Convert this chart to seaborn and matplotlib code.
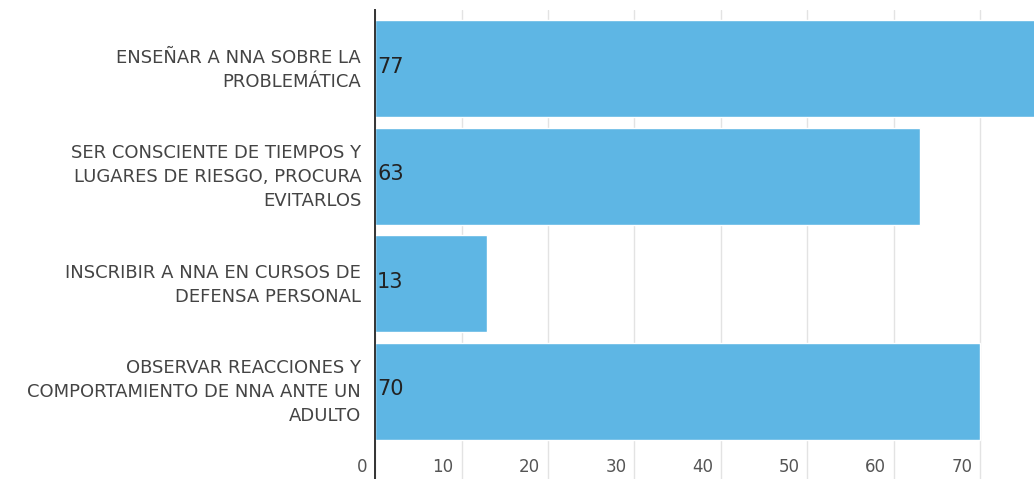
import pandas as pd
import matplotlib.pyplot as plt
import matplotlib.transforms as mtransforms
import seaborn as sns

# data
categorias = [
    "ENSEÑAR A NNA SOBRE LA\nPROBLEMÁTICA",
    "SER CONSCIENTE DE TIEMPOS Y\nLUGARES DE RIESGO, PROCURA\nEVITARLOS",
    "INSCRIBIR A NNA EN CURSOS DE\nDEFENSA PERSONAL",
    "OBSERVAR REACCIONES Y\nCOMPORTAMIENTO DE NNA ANTE UN\nADULTO",
]
valores = [77, 63, 13, 70]
ticks_x = [0, 10, 20, 30, 40, 50, 60, 70]

df = pd.DataFrame({"categoria": categorias, "valor": valores})

sns.set_style("white")
plt.rcParams['font.family'] = ['DejaVu Sans']

fig = plt.figure(figsize=(10.34, 4.79), dpi=100)
ax = fig.add_axes([0.3627, 0.0, 0.6373, 0.979])

sns.barplot(data=df, x="valor", y="categoria", orient="h", color="#5eb6e4",
            saturation=1, width=0.9, ax=ax)

ax.set_xlim(0, 76.2)
ax.set_ylim(3.815, -0.546)
ax.set_xlabel("")
ax.set_ylabel("")

# vertical gridlines
ax.set_xticks(ticks_x)
ax.grid(axis="x", color="#e3e3e3", linewidth=1)
ax.set_axisbelow(True)
ax.tick_params(axis="x", length=0, labelbottom=False)
ax.tick_params(axis="y", length=0, pad=10, labelsize=13, labelcolor="#444444")
shift_up = mtransforms.ScaledTranslation(0, 4 / 100, fig.dpi_scale_trans)
for lbl in ax.get_yticklabels():
    lbl.set_linespacing(1.42)
    lbl.set_ha("right")
    lbl.set_multialignment("right")
    lbl.set_transform(lbl.get_transform() + shift_up)

for s in ["top", "right", "bottom"]:
    ax.spines[s].set_visible(False)
ax.spines["left"].set_color("#333333")
ax.spines["left"].set_linewidth(1.4)
ax.spines["left"].set_zorder(5)

# x tick labels drawn inside the plot area, to the left of each gridline
trans = mtransforms.blended_transform_factory(ax.transData, ax.transAxes)
trans = mtransforms.offset_copy(trans, fig=fig, x=-8, y=0, units="dots")
for t in ticks_x:
    ax.text(t, 0.025, str(t), transform=trans, ha="right", va="center",
            fontsize=12, color="#555555")

# value labels at the start of each bar
vtrans = mtransforms.offset_copy(ax.transData, fig=fig, x=2, y=2, units="dots")
for i, v in enumerate(valores):
    ax.text(0, i, str(v), transform=vtrans, ha="left", va="center",
            fontsize=15, color="#222222", zorder=6)

plt.savefig("out.png", dpi=100)
